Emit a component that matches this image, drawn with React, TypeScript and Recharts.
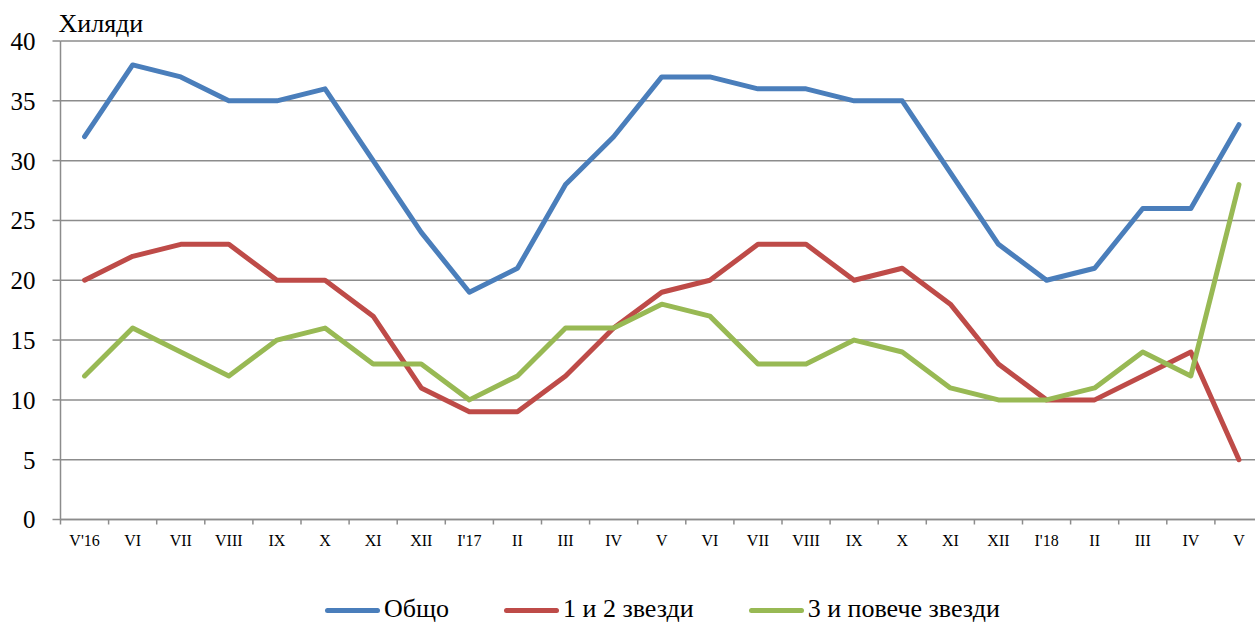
import React from 'react';
import { LineChart, Line, XAxis, YAxis, CartesianGrid, Legend } from 'recharts';

const months = ["V'16", 'VI', 'VII', 'VIII', 'IX', 'X', 'XI', 'XII', "I'17", 'II', 'III', 'IV', 'V', 'VI', 'VII', 'VIII', 'IX', 'X', 'XI', 'XII', "I'18", 'II', 'III', 'IV', 'V'];
const total = [32, 38, 37, 35, 35, 36, 30, 24, 19, 21, 28, 32, 37, 37, 36, 36, 35, 35, 29, 23, 20, 21, 26, 26, 33];
const stars12 = [20, 22, 23, 23, 20, 20, 17, 11, 9, 9, 12, 16, 19, 20, 23, 23, 20, 21, 18, 13, 10, 10, 12, 14, 5];
const stars3plus = [12, 16, 14, 12, 15, 16, 13, 13, 10, 12, 16, 16, 18, 17, 13, 13, 15, 14, 11, 10, 10, 11, 14, 12, 28];
const yTicks = [0, 5, 10, 15, 20, 25, 30, 35, 40];
const seriesNames = ['Общо', '1 и 2 звезди', '3 и повече звезди'];
const seriesColors = ['#4A7EBB', '#BE4B48', '#98B954'];

const data = months.map((m, i) => ({ m, total: total[i], s12: stars12[i], s3: stars3plus[i] }));

const W = 1275;
const H = 624;
const Y_W = 60.5;
const M_RIGHT = 12;
const PLOT_W = W - Y_W - M_RIGHT;
const STEP = PLOT_W / months.length;
const GRID = '#8C8C8C';
const FONT = '"Liberation Serif", "Times New Roman", serif';

const XTick = (props: any) => {
  const { x, y, payload } = props;
  return (
    <g>
      <line x1={x - STEP / 2} x2={x - STEP / 2} y1={y} y2={y + 5} stroke={GRID} strokeWidth={1.5} />
      <text x={x} y={y + 26} textAnchor="middle" fontSize={16} fill="#000" fontFamily={FONT}>
        {payload.value}
      </text>
    </g>
  );
};

const LegendContent = () => (
  <div style={{ display: 'flex', alignItems: 'center', height: 40, paddingTop: 10, boxSizing: 'border-box', paddingLeft: 325, fontFamily: FONT, fontSize: 26, color: '#000' }}>
    {seriesNames.map((n, i) => (
      <div key={n} style={{ display: 'flex', alignItems: 'center', marginRight: 55, height: 30 }}>
        <div style={{ width: 55, height: 5, borderRadius: 3, background: seriesColors[i], marginRight: 4, marginTop: 2 }} />
        <span style={{ lineHeight: '30px', whiteSpace: 'nowrap' }}>{n}</span>
      </div>
    ))}
  </div>
);

export default function App() {
  return (
    <div style={{ position: 'fixed', left: 0, top: 0, width: 1255, height: 624, overflow: 'hidden', background: '#fff' }}>
      <LineChart width={W} height={H} data={data} margin={{ top: 41, right: M_RIGHT, bottom: 0, left: 0 }} style={{ fontFamily: FONT }}>
        <CartesianGrid vertical={false} stroke={GRID} strokeWidth={1.5} />
        <XAxis
          dataKey="m"
          interval={0}
          padding={{ left: STEP / 2, right: STEP / 2 }}
          height={64.5}
          tickSize={0}
          tickMargin={0}
          tick={<XTick />}
          axisLine={{ stroke: GRID, strokeWidth: 1.5 }}
          tickLine={false}
        />
        <YAxis
          domain={[0, 40]}
          ticks={yTicks}
          interval={0}
          width={Y_W}
          tickSize={8}
          tickMargin={17}
          axisLine={{ stroke: GRID, strokeWidth: 1.5 }}
          tickLine={{ stroke: GRID, strokeWidth: 1.5 }}
          tick={{ fontSize: 25, fill: '#000', fontFamily: FONT }}
          label={{
            content: (p: any) => {
              const vb = p.viewBox || { x: 0, y: 41, width: Y_W };
              return (
                <text x={vb.x + vb.width - 2} y={vb.y - 9} fontSize={26} fill="#000" fontFamily={FONT}>
                  Хиляди
                </text>
              );
            },
          }}
        />
        <Legend verticalAlign="bottom" content={<LegendContent />} wrapperStyle={{ left: 0, width: W }} />
        <Line dataKey="total" name={seriesNames[0]} stroke={seriesColors[0]} strokeWidth={5} dot={false} strokeLinecap="round" strokeLinejoin="round" isAnimationActive={false} />
        <Line dataKey="s12" name={seriesNames[1]} stroke={seriesColors[1]} strokeWidth={5} dot={false} strokeLinecap="round" strokeLinejoin="round" isAnimationActive={false} />
        <Line dataKey="s3" name={seriesNames[2]} stroke={seriesColors[2]} strokeWidth={5} dot={false} strokeLinecap="round" strokeLinejoin="round" isAnimationActive={false} />
      </LineChart>
    </div>
  );
}
